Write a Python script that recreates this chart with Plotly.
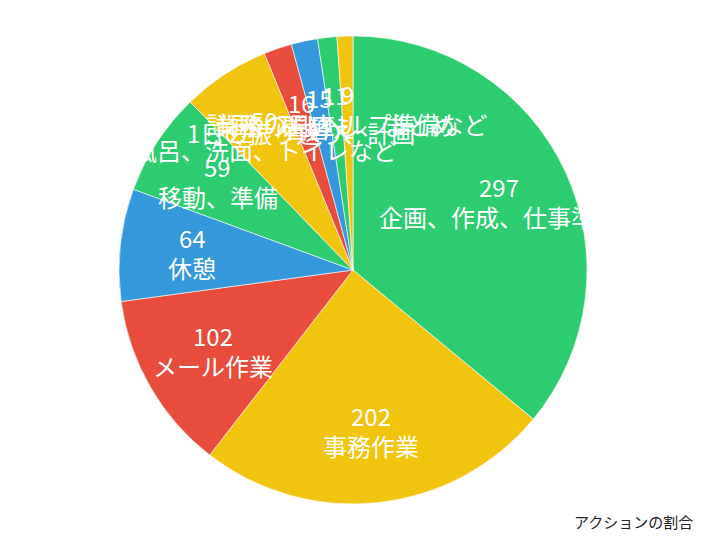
import math
import plotly.graph_objects as go

# アクションごとの時間（読み取り値）
labels = [
    "企画、作成、仕事準備",
    "事務作業",
    "メール作業",
    "休憩",
    "移動、準備",
    "風呂、洗面、トイレなど",
    "1日の振り返り、計画",
    "着替え",
    "業務の見直し、まとめ",
    "計画、TELヘルプ準備など",
]
values = [297, 202, 102, 64, 59, 50, 16, 15, 11, 9]
colors = ["#2ecc71", "#f1c40f", "#e74c3c", "#3498db", "#2ecc71",
          "#f1c40f", "#e74c3c", "#3498db", "#2ecc71", "#f1c40f"]

W, H = 706, 540
# ページの余白 (8px) を差し引いた位置
cx, cy, radius = 345, 262, 234

fig = go.Figure(go.Pie(
    labels=labels,
    values=values,
    sort=False,
    direction="clockwise",
    rotation=0,
    marker=dict(colors=colors, line=dict(color="white", width=0.6)),
    textinfo="none",
    hoverinfo="label+value",
    showlegend=False,
    domain=dict(x=[(cx - radius) / W, (cx + radius) / W],
                y=[1 - (cy + radius) / H, 1 - (cy - radius) / H]),
))

# ラベル（値 + 名前）を各スライスの中央角に置く
font = "Noto Sans CJK JP, Noto Sans, sans-serif"
total = sum(values)
start = 0
for val, lab in zip(values, labels):
    mid = math.radians((start + val / 2) / total * 360)
    start += val
    r = radius * 0.69
    x = (cx + r * math.sin(mid)) / W
    y = 1 - (cy - r * math.cos(mid)) / H
    for txt, shift in [(str(val), 15), (lab, -15)]:
        fig.add_annotation(x=x, y=y, xref="paper", yref="paper", text=txt,
                           showarrow=False, yshift=shift,
                           xanchor="center", yanchor="middle",
                           font=dict(family=font, size=24, color="white"))

fig.add_annotation(x=687 / W, y=1 - 513 / H, xref="paper", yref="paper",
                   text="アクションの割合", showarrow=False,
                   xanchor="right", yanchor="middle",
                   font=dict(family=font, size=15, color="#222"))

fig.update_layout(
    width=W, height=H,
    margin=dict(l=0, r=0, t=0, b=0),
    paper_bgcolor="white",
)
fig.write_html("out.html")
